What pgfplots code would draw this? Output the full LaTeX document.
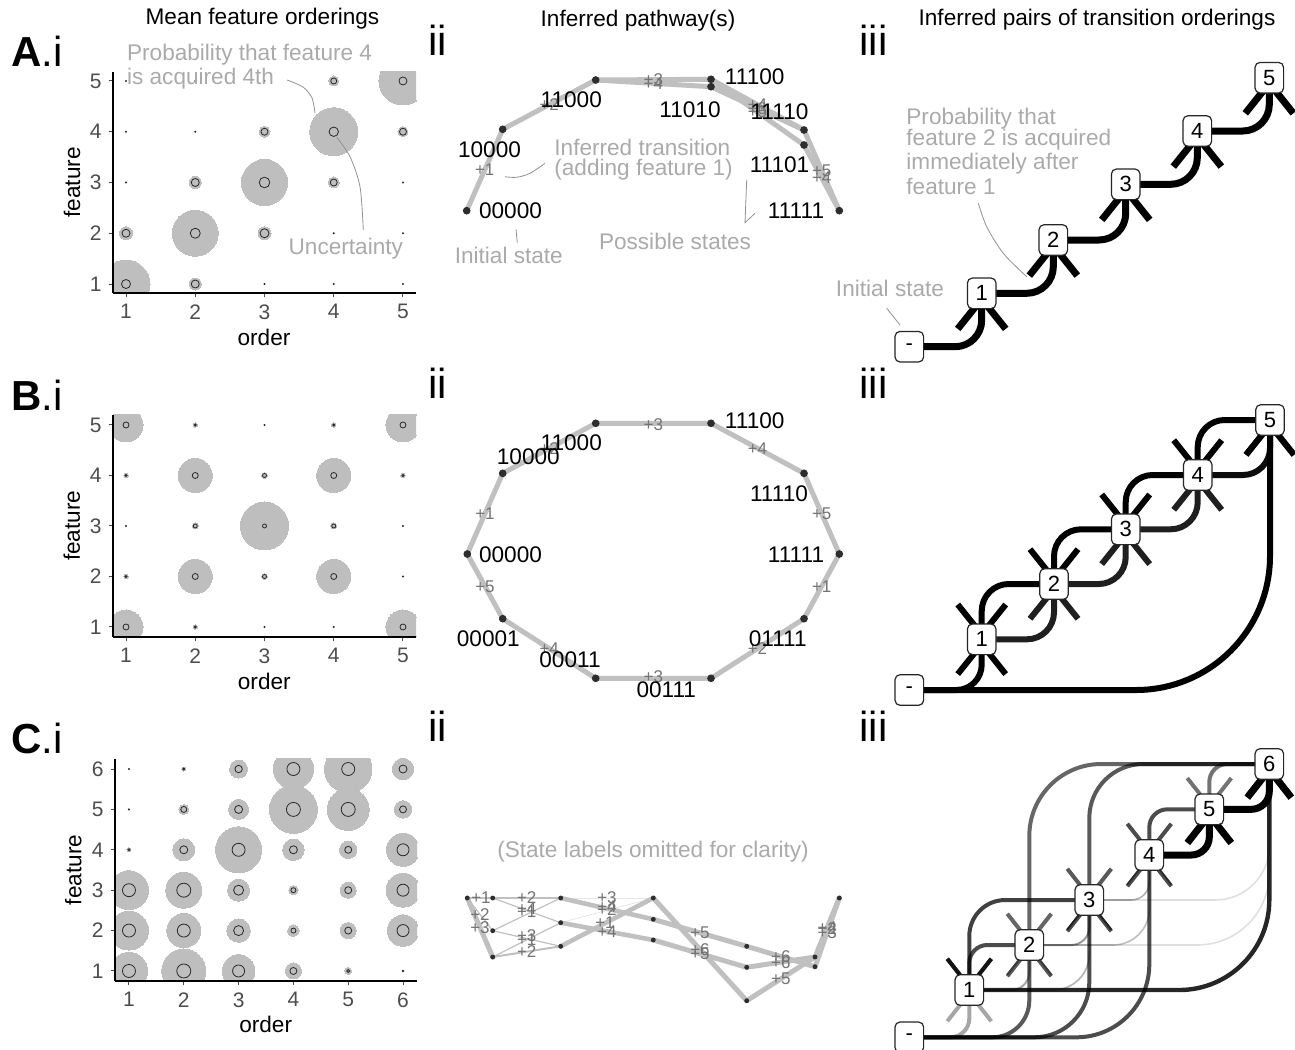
\documentclass[border=0pt]{standalone}
\usepackage{fontspec}
\setmainfont{Liberation Sans}
\usepackage{pgfplots}
\usepackage{pgfplotstable}
\pgfplotsset{compat=1.18}
\usetikzlibrary{arrows.meta}

\definecolor{bub}{RGB}{190,190,190}
\definecolor{ringc}{RGB}{40,40,40}
\definecolor{annot}{RGB}{170,170,170}
\definecolor{edgec}{RGB}{192,192,192}
\definecolor{elab}{RGB}{115,115,115}
\definecolor{dotc}{RGB}{45,45,45}
\definecolor{tickc}{RGB}{77,77,77}

\newcommand{\fTitle}{\fontsize{11.3pt}{13pt}\selectfont}
\newcommand{\fAnn}{\fontsize{11.3pt}{13pt}\selectfont}
\newcommand{\fState}{\fontsize{11.3pt}{13pt}\selectfont}
\newcommand{\fTick}{\fontsize{10.5pt}{12pt}\selectfont}
\newcommand{\fEdge}{\fontsize{8.5pt}{10pt}\selectfont}
\newcommand{\fPanel}{\fontsize{21pt}{24pt}\selectfont}
\newcommand{\fBox}{\fontsize{11pt}{13pt}\selectfont}

% bubble data: x = order, y = feature, g = grey radius (px), b = ring radius (px)
\pgfplotstableread{
x y g b
1 1 24 4.5
2 1 6 4
3 1 0 0.6
4 1 0 0.6
5 1 0 0.6
1 2 6.5 4
2 2 23 5
3 2 6.5 4.5
4 2 0 0.6
5 2 0 0.6
1 3 0 0.6
2 3 6 4
3 3 23 5.3
4 3 5.5 3.5
5 3 0 0.6
1 4 0 0.6
2 4 0 0.6
3 4 5.5 3.5
4 4 24 4.7
5 4 5 3.5
1 5 0 0.6
2 5 0 0.6
3 5 0 0.6
4 5 5 3
5 5 24 4
}\tabA

\pgfplotstableread{
x y g b
1 1 17 3
2 1 2.2 1
3 1 0 0.6
4 1 0 0.6
5 1 17 3
1 2 2.2 1
2 2 17 3
3 2 3 2
4 2 17 3
5 2 0 0.6
1 3 0 0.6
2 3 3 2
3 3 24 2
4 3 3 2
5 3 0 0.6
1 4 2.2 1
2 4 17 3
3 4 3 2
4 4 17 3
5 4 2.2 1
1 5 17 3
2 5 2.2 1
3 5 0 0.6
4 5 2.2 1
5 5 17 3
}\tabB

\pgfplotstableread{
x y g b
1 6 0 0.6
2 6 2 1
3 6 9 3.7
4 6 20 6.5
5 6 23.7 6.5
6 6 10.7 4
1 5 0 0.6
2 5 5 3
3 5 10 4
4 5 24 7
5 5 21 7
6 5 8.7 3.5
1 4 2 1.1
2 4 11 4
3 4 23 6.5
4 4 10.7 4
5 4 8.7 3.5
6 4 16.5 6
1 3 19.5 6.5
2 3 18 7
3 3 11 5
4 3 4.7 2.5
5 3 8 3.5
6 3 17 6
1 2 19.5 6.5
2 2 17 6.5
3 2 11.7 5
4 2 5.7 2.5
5 2 8 3.5
6 2 15.7 6
1 1 18.7 6.5
2 1 22 7
3 1 16.3 6
4 1 8 3.5
5 1 3.5 1.5
6 1 0 0.8
}\tabC

\pgfplotsset{bubax/.style={
  anchor=south west, scale only axis,
  axis x line*=bottom, axis y line*=left,
  axis line style={line width=0.8pt, black},
  tick align=outside, major tick length=2.2pt,
  tick style={line width=0.5pt, color=tickc},
  xtick distance=1, ytick distance=1,
  ticklabel style={font=\fTick, text=tickc},
  /pgf/number format/assume math mode=true,
  clip marker paths=true, axis on top,
}}

\newcommand{\bubbles}[2]{%
 \addplot[bub, scatter, only marks, mark=*, point meta=\thisrow{g},
   mark options={draw=bub, fill=bub, line width=0pt},
   scatter/use mapped color={draw=bub, fill=bub},
   visualization depends on={\thisrow{g}/2 \as \msz},
   scatter/@pre marker code/.append style={/tikz/mark size=\msz pt, /tikz/line width=0pt}] table {#1};
 \addplot[ringc, scatter, only marks, mark=o, point meta=\thisrow{b},
   scatter/use mapped color={draw=ringc, fill=none},
   visualization depends on={\thisrow{b}/2 \as \msz},
   scatter/@pre marker code/.append style={/tikz/mark size=\msz pt, /tikz/line width=#2}] table {#1};
}

\tikzset{tipAB/.style={-{Straight Barb[length=15pt,width=24pt]}},
         tipC/.style={-{Straight Barb[length=14pt,width=22pt]}}}
% x1 y1 x2 y2 radius linewidth opacity
\newcommand{\arcAB}[7]{\addplot[black, line width=#6, opacity=#7, rounded corners=#5, tipAB] coordinates {(#1,#2) (#3,#2) (#3,#4)};}
\newcommand{\arcC}[7]{\addplot[black, line width=#6, opacity=#7, rounded corners=#5, tipC] coordinates {(#1,#2) (#3,#2) (#3,#4)};}
\newcommand{\bx}[3]{\node[draw=black!85, fill=white, rounded corners=2.5pt, line width=0.6pt, minimum width=14.3pt, minimum height=15.3pt, inner sep=0pt, font=\fBox] at (axis cs:#1,#2) {#3};}
\newcommand{\elab}[3]{\node[font=\fEdge, text=elab, inner sep=0pt] at (axis cs:#1,#2) {#3};}
\newcommand{\slab}[3]{\node[font=\fState, inner sep=0pt] at (axis cs:#1,#2) {#3};}
\newcommand{\ed}[6]{\addplot[#2, line width=#1, line cap=round] coordinates {(#3,#4) (#5,#6)};}

\begin{document}
\begin{tikzpicture}
\path[use as bounding box] (0,0) rectangle (647.5pt,524.5pt);

% ---------- A.i ----------
\begin{axis}[bubax, at={(56.5pt,378pt)}, width=151.5pt, height=110.5pt,
  xmin=0.812, xmax=5.188, ymin=0.823, ymax=5.177]
\bubbles{\tabA}{0.7pt}
\end{axis}
% ---------- B.i ----------
\begin{axis}[bubax, at={(56.5pt,206pt)}, width=151.5pt, height=111pt,
  xmin=0.812, xmax=5.188, ymin=0.802, ymax=5.198]
\bubbles{\tabB}{0.65pt}
\end{axis}
% ---------- C.i ----------
\begin{axis}[bubax, at={(57.5pt,34pt)}, width=151pt, height=111pt,
  xmin=0.745, xmax=6.255, ymin=0.752, ymax=6.248]
\bubbles{\tabC}{0.7pt}
\end{axis}

% ---------- master layer (pixel coordinates) ----------
\begin{axis}[at={(0,0)}, anchor=south west, width=647.5pt, height=524.5pt,
  scale only axis, xmin=0, xmax=1295, ymin=0, ymax=1049, y dir=reverse,
  hide axis, clip=false]

% ===== A.ii =====
\addplot[edgec, line width=2.5pt, line join=round] coordinates {(466.7,210.7) (502.7,129.3) (595.7,80) (711,79.3) (804,130) (839.3,210.7)};
\addplot[edgec, line width=2.5pt, line join=round] coordinates {(595.7,80) (711,86.7) (804,130)};
\addplot[edgec, line width=2.5pt, line join=round] coordinates {(711,79.3) (804,145) (839.3,210.7)};
\addplot[only marks, mark=*, mark size=1.7pt, dotc] coordinates {(466.7,210.7) (502.7,129.3) (595.7,80) (711,79.3) (711,86.7) (804,130) (804,145) (839.3,210.7)};
\elab{484.7}{170}{+1}
\elab{549.2}{104.7}{+2}
\elab{653.3}{79.7}{+3}
\elab{653.3}{83.3}{+4}
\elab{757.5}{104.7}{+4}
\elab{757.5}{108.3}{+3}
\elab{757.5}{112}{+5}
\elab{821.7}{170.3}{+5}
\elab{821.7}{177.8}{+4}
\slab{510.5}{210.7}{00000}
\slab{489.5}{149.3}{10000}
\slab{571.3}{99.3}{11000}
\slab{754.7}{76.7}{11100}
\slab{690}{109.3}{11010}
\slab{779.5}{111.7}{11110}
\slab{779.5}{165}{11101}
\slab{796}{210.7}{11111}

% ===== B.ii =====
\addplot[edgec, line width=2.5pt, line join=round] coordinates {(467.3,554) (502.7,473.3) (595.7,423.3) (711,423.3) (804,473.3) (839.3,554) (804,618.7) (711,678.3) (595.7,678.3) (502.7,618.7) (467.3,554)};
\addplot[only marks, mark=*, mark size=1.7pt, dotc] coordinates {(467.3,554) (502.7,473.3) (595.7,423.3) (711,423.3) (804,473.3) (839.3,554) (804,618.7) (711,678.3) (595.7,678.3) (502.7,618.7)};
\elab{485}{513.7}{+1}
\elab{549.2}{448.3}{+2}
\elab{653.3}{424.5}{+3}
\elab{757.5}{448.3}{+4}
\elab{821.7}{513.7}{+5}
\elab{821.7}{586.3}{+1}
\elab{757.5}{648.5}{+2}
\elab{653.3}{677}{+3}
\elab{549.2}{648.5}{+4}
\elab{485}{586.3}{+5}
\slab{510.5}{555}{00000}
\slab{528.3}{456.7}{10000}
\slab{571.3}{442.7}{11000}
\slab{754.7}{420.7}{11100}
\slab{779}{493.3}{11110}
\slab{796}{555}{11111}
\slab{777.7}{638.3}{01111}
\slab{666.3}{690}{00111}
\slab{570}{660}{00011}
\slab{488.3}{638.3}{00001}

% ===== C.ii =====
\ed{0.6pt}{edgec}{467.3}{898}{492.7}{898}
\ed{0.6pt}{edgec}{467.3}{898}{492.7}{930.7}
\ed{2.5pt}{edgec}{467.3}{898}{492.7}{957}
\ed{0.6pt}{edgec}{492.7}{898}{560.7}{898}
\ed{0.6pt}{edgec}{492.7}{898}{560.7}{922.7}
\ed{0.6pt}{edgec}{492.7}{930.7}{560.7}{898}
\ed{0.6pt}{edgec}{492.7}{930.7}{560.7}{946.3}
\ed{0.6pt}{edgec}{492.7}{957}{560.7}{922.7}
\ed{1pt}{edgec}{492.7}{957}{560.7}{946.3}
\ed{0.4pt}{edgec!40}{560.7}{898}{653.3}{898}
\ed{0.4pt}{edgec!40}{560.7}{922.7}{653.3}{898}
\ed{2.3pt}{edgec}{560.7}{898}{653.3}{919.3}
\ed{2.3pt}{edgec}{560.7}{922.7}{653.3}{940}
\ed{2.3pt}{edgec}{560.7}{946.3}{653.3}{898}
\ed{2.5pt}{edgec}{653.3}{898}{746.7}{1000.7}
\ed{2.5pt}{edgec}{653.3}{919.3}{746.7}{946.3}
\ed{2.5pt}{edgec}{653.3}{940}{746.7}{967.3}
\ed{2.5pt}{edgec}{746.7}{946.3}{815}{966.7}
\ed{2.5pt}{edgec}{746.7}{967.3}{815}{957}
\ed{2.5pt}{edgec}{746.7}{1000.7}{815}{957}
\ed{2.5pt}{edgec}{815}{957}{839.3}{898}
\ed{2.5pt}{edgec}{815}{966.7}{839.3}{898}
\addplot[only marks, mark=*, mark size=1pt, dotc] coordinates {(467.3,898) (492.7,898) (492.7,930.7) (492.7,957) (560.7,898) (560.7,922.7) (560.7,946.3) (653.3,898) (653.3,919.3) (653.3,940) (746.7,946.3) (746.7,967.3) (746.7,1000.7) (815,957) (815,966.7) (839.3,898)};
\elab{481}{898}{+1}
\elab{480}{914.3}{+2}
\elab{480}{927.5}{+3}
\elab{526.7}{898}{+2}
\elab{526.7}{909}{+4}
\elab{526.7}{912}{+1}
\elab{526.7}{936}{+3}
\elab{526.7}{939.8}{+1}
\elab{526.7}{951.7}{+2}
\elab{607}{898}{+3}
\elab{607}{907}{+4}
\elab{607}{909.5}{+2}
\elab{605}{922.2}{+1}
\elab{607}{931.3}{+4}
\elab{700}{932.8}{+5}
\elab{700}{949.3}{+6}
\elab{700}{953.7}{+5}
\elab{780.8}{956.5}{+6}
\elab{780.8}{962.2}{+6}
\elab{780.8}{978.8}{+5}
\elab{827.2}{927.5}{+4}
\elab{827.2}{929}{+2}
\elab{827.2}{932.3}{+3}
\node[font=\fAnn, text=annot] at (axis cs:653,851.7) {(State labels omitted for clarity)};

% ===== A.iii =====
\arcAB{909.3}{346.7}{981.7}{293.3}{13.3pt}{3.5pt}{1}
\arcAB{981.7}{293.3}{1053.3}{240}{13.3pt}{3.5pt}{1}
\arcAB{1053.3}{240}{1125.7}{184.3}{13.3pt}{3.5pt}{1}
\arcAB{1125.7}{184.3}{1197.3}{131}{13.3pt}{3.5pt}{1}
\arcAB{1197.3}{131}{1269.3}{77.7}{13.3pt}{3.5pt}{1}
\bx{909.3}{346.7}{-}
\bx{981.7}{293.3}{1}
\bx{1053.3}{240}{2}
\bx{1125.7}{184.3}{3}
\bx{1197.3}{131}{4}
\bx{1269.3}{77.7}{5}

% ===== B.iii =====
\arcAB{909.3}{690}{1270}{420}{67pt}{3pt}{1}
\arcAB{909.3}{690}{981.7}{639.3}{12.7pt}{3pt}{1}
\arcAB{981.7}{639.3}{1054}{584}{13.5pt}{3pt}{0.88}
\arcAB{1054}{584}{981.7}{639.3}{13.5pt}{3pt}{1}
\arcAB{1054}{584}{1125.7}{529.3}{13.5pt}{3pt}{0.88}
\arcAB{1125.7}{529.3}{1054}{584}{13.5pt}{3pt}{1}
\arcAB{1125.7}{529.3}{1197.7}{475}{13.5pt}{3pt}{0.88}
\arcAB{1197.7}{475}{1125.7}{529.3}{13.5pt}{3pt}{1}
\arcAB{1197.7}{475}{1270}{420}{13.5pt}{3pt}{0.95}
\arcAB{1270}{420}{1197.7}{475}{13.5pt}{3pt}{1}
\bx{909.3}{690}{-}
\bx{981.7}{639.3}{1}
\bx{1054}{584}{2}
\bx{1125.7}{529.3}{3}
\bx{1197.7}{475}{4}
\bx{1270}{420}{5}

% ===== C.iii =====
\arcC{1089.3}{900}{1269.3}{764}{27pt}{0.8pt}{0.12}
\arcC{1029.3}{945}{1269.3}{764}{36pt}{0.8pt}{0.12}
\arcC{1029.3}{945}{1149.3}{855}{18pt}{0.8pt}{0.25}
\arcC{1089.3}{900}{1149.3}{855}{9pt}{0.8pt}{0.3}
\arcC{969.3}{990}{1089.3}{900}{18pt}{0.8pt}{0.3}
\arcC{969.3}{990}{1029.3}{945}{9pt}{1pt}{0.35}
\arcC{1029.3}{945}{1089.3}{900}{9pt}{1pt}{0.4}
\arcC{909.3}{1037.3}{969.3}{990}{9.5pt}{2pt}{0.35}
\arcC{909.3}{1037.3}{1029.3}{945}{18.5pt}{2pt}{0.65}
\arcC{909.3}{1037.3}{1089.3}{900}{27.5pt}{2pt}{0.7}
\arcC{909.3}{1037.3}{1149.3}{855}{36.5pt}{2pt}{0.7}
\arcC{969.3}{990}{1269.3}{764}{45pt}{2.2pt}{0.85}
\arcC{1029.3}{945}{969.3}{990}{9pt}{2pt}{0.7}
\arcC{1089.3}{900}{969.3}{990}{18pt}{2pt}{0.75}
\arcC{1269.3}{764}{1029.3}{945}{36pt}{2pt}{0.6}
\arcC{1269.3}{764}{1089.3}{900}{27pt}{2pt}{0.65}
\arcC{1209.3}{809.3}{1149.3}{855}{9pt}{2pt}{0.7}
\arcC{1269.3}{764}{1209.3}{809.3}{9pt}{2pt}{0.55}
\arcC{1149.3}{855}{1209.3}{809.3}{9pt}{3.5pt}{1}
\arcC{1209.3}{809.3}{1269.3}{764}{9pt}{3.5pt}{1}
\bx{909.3}{1037.3}{-}
\bx{969.3}{990}{1}
\bx{1029.3}{945}{2}
\bx{1089.3}{900}{3}
\bx{1149.3}{855}{4}
\bx{1209.3}{809.3}{5}
\bx{1269.3}{764}{6}

% ===== annotations =====
\addplot[annot!85!black, line width=0.4pt, smooth] coordinates {(287,80) (303,87) (312,98) (315,113)};
\addplot[annot!85!black, line width=0.4pt, smooth] coordinates {(363.3,230) (360,186.7) (350,156.7) (336.7,137.3)};
\addplot[annot!85!black, line width=0.4pt, smooth] coordinates {(545,163.3) (530,173.3) (516.7,177.3) (505,176.7)};
\addplot[annot!85!black, line width=0.4pt] coordinates {(516,229.3) (517.3,242.7)};
\addplot[annot!85!black, line width=0.4pt] coordinates {(746.7,180) (745,222.7) (755,213.3)};
\addplot[annot!85!black, line width=0.4pt, smooth] coordinates {(978.3,203.3) (986.7,226.7) (1003.3,253.3) (1026.7,276.7)};
\addplot[annot!85!black, line width=0.4pt] coordinates {(886.7,308.3) (900,325)};

\node[font=\fAnn, text=annot, anchor=west, inner sep=0pt] at (axis cs:126.7,55) {Probability that feature 4};
\node[font=\fAnn, text=annot, anchor=west, inner sep=0pt] at (axis cs:126.7,79) {is acquired 4th};
\node[font=\fAnn, text=annot, inner sep=0pt] at (axis cs:345.8,248.3) {Uncertainty};
\node[font=\fAnn, text=annot, anchor=west, inner sep=0pt] at (axis cs:554,147.3) {Inferred transition};
\node[font=\fAnn, text=annot, anchor=west, inner sep=0pt] at (axis cs:554,170) {(adding feature 1)};
\node[font=\fAnn, text=annot, inner sep=0pt] at (axis cs:508.8,255) {Initial state};
\node[font=\fAnn, text=annot, inner sep=0pt] at (axis cs:675,241.7) {Possible states};
\node[font=\fAnn, text=annot, anchor=west, inner sep=0pt] at (axis cs:906,118.3) {Probability that};
\node[font=\fAnn, text=annot, anchor=west, inner sep=0pt] at (axis cs:906,140) {feature 2 is acquired};
\node[font=\fAnn, text=annot, anchor=west, inner sep=0pt] at (axis cs:906,163.3) {immediately after};
\node[font=\fAnn, text=annot, anchor=west, inner sep=0pt] at (axis cs:906,186.7) {feature 1};
\node[font=\fAnn, text=annot, inner sep=0pt] at (axis cs:890,288.3) {Initial state};

% ===== titles and axis titles =====
\node[font=\fTitle, inner sep=0pt] at (axis cs:262.5,19) {Mean feature orderings};
\node[font=\fTitle, inner sep=0pt] at (axis cs:638,21) {Inferred pathway(s)};
\node[font=\fTitle, inner sep=0pt] at (axis cs:1097,20) {Inferred pairs of transition orderings};
\node[font=\fTitle, inner sep=0pt] at (axis cs:264,337) {order};
\node[font=\fTitle, inner sep=0pt, rotate=90] at (axis cs:72,182.5) {feature};
\node[font=\fTitle, inner sep=0pt] at (axis cs:264.3,681.7) {order};
\node[font=\fTitle, inner sep=0pt, rotate=90] at (axis cs:71.7,525.7) {feature};
\node[font=\fTitle, inner sep=0pt] at (axis cs:265.7,1024) {order};
\node[font=\fTitle, inner sep=0pt, rotate=90] at (axis cs:73.3,870) {feature};

% ===== panel labels =====
\node[font=\fPanel, anchor=base west, inner sep=0pt] at (axis cs:11,66) {\textbf{A}.i};
\node[font=\fPanel, anchor=base west, inner sep=0pt] at (axis cs:11,410) {\textbf{B}.i};
\node[font=\fPanel, anchor=base west, inner sep=0pt] at (axis cs:11,753) {\textbf{C}.i};
\node[font=\fPanel, anchor=base west, inner sep=0pt] at (axis cs:428,55) {ii};
\node[font=\fPanel, anchor=base west, inner sep=0pt] at (axis cs:428,398) {ii};
\node[font=\fPanel, anchor=base west, inner sep=0pt] at (axis cs:428,741.7) {ii};
\node[font=\fPanel, anchor=base west, inner sep=0pt] at (axis cs:859,55) {iii};
\node[font=\fPanel, anchor=base west, inner sep=0pt] at (axis cs:859,398) {iii};
\node[font=\fPanel, anchor=base west, inner sep=0pt] at (axis cs:859,741.7) {iii};
\end{axis}
\end{tikzpicture}
\end{document}
